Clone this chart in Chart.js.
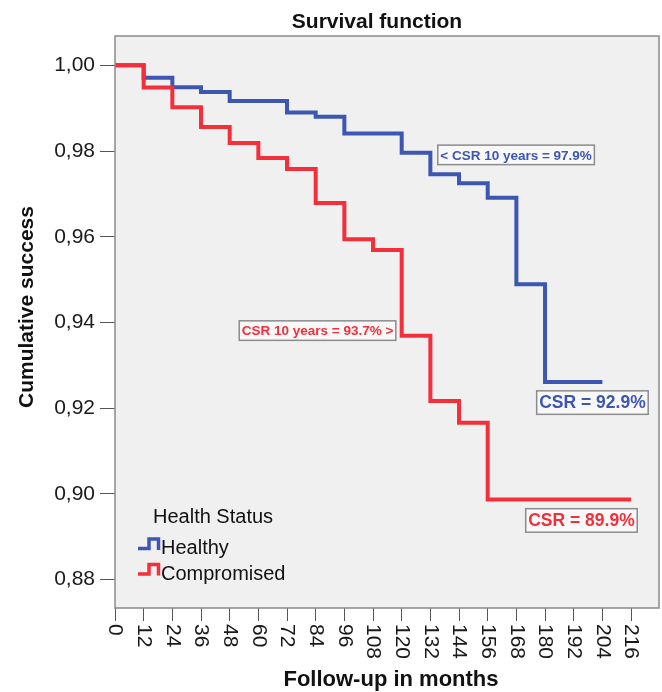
<!DOCTYPE html>
<html>
<head>
<meta charset="utf-8">
<title>Survival function</title>
<script src="https://cdn.jsdelivr.net/npm/chart.js@4.4.1/dist/chart.umd.min.js"></script>
<style>
  html, body { margin: 0; padding: 0; background: #fff; }
  #wrap { width: 662px; height: 692px; }
</style>
</head>
<body>
<div id="wrap"><canvas id="survChart" width="662" height="692"></canvas></div>
<script>
// tick values
const monthTicks = [0, 12, 24, 36, 48, 60, 72, 84, 96, 108, 120, 132, 144, 156, 168, 180, 192, 204, 216];
const survTicks = [0.88, 0.90, 0.92, 0.94, 0.96, 0.98, 1.00];

// Kaplan-Meier steps (value after the drop at each month)
const healthyMonths = [0, 12, 24, 36, 48, 72, 84, 96, 120, 132, 144, 156, 168, 180, 204];
const healthySurv = [1.000, 0.9971, 0.9949, 0.9938, 0.9917, 0.9890, 0.9880, 0.9841, 0.9796, 0.9746, 0.9725, 0.9691, 0.9489, 0.9261, 0.9261];
const compromisedMonths = [0, 12, 24, 36, 48, 60, 72, 84, 96, 108, 120, 132, 144, 156, 216];
const compromisedSurv = [1.000, 0.9948, 0.9902, 0.9856, 0.9819, 0.9784, 0.9758, 0.9679, 0.9594, 0.9569, 0.9369, 0.9217, 0.9166, 0.8987, 0.8987];

const groupNames = ["Healthy", "Compromised"];
const legendTitle = "Health Status";

// text boxes, anchored in data units (left edge month, centre survival)
const notes = [
  { text: "< CSR 10 years = 97.9%", group: 0, at: [135.1, 0.9791], size: 13.5 },
  { text: "CSR 10 years = 93.7% >", group: 1, at: [52.0, 0.9381], size: 13.5 },
  { text: "CSR = 92.9%", group: 0, at: [176.5, 0.9213], size: 17.5 },
  { text: "CSR = 89.9%", group: 1, at: [171.9, 0.8938], size: 17.5 }
];

const FONT = "'Liberation Sans', Arial, Helvetica, sans-serif";
const colors = ["#3c56b2", "#f22f3a"];

const toPoints = (xs, ys) => xs.map((m, i) => ({ x: m, y: ys[i] }));

const decor = {
  id: "decor",
  beforeDraw(chart) {
    const { ctx, chartArea: a } = chart;
    ctx.save();
    ctx.fillStyle = "#f0f0f0";
    ctx.fillRect(a.left, a.top, a.right - a.left, a.bottom - a.top);
    ctx.restore();
  },
  afterDraw(chart) {
    const { ctx, chartArea: a, scales: { x, y } } = chart;
    ctx.save();

    // frame round the plot
    ctx.strokeStyle = "#8a8a8a";
    ctx.lineWidth = 1.5;
    ctx.strokeRect(a.left, a.top, a.right - a.left, a.bottom - a.top);

    // title
    ctx.fillStyle = "#111";
    ctx.font = `bold 21px ${FONT}`;
    ctx.textAlign = "center";
    ctx.textBaseline = "alphabetic";
    ctx.fillText("Survival function", 377, 28);

    // x title
    ctx.font = `bold 22px ${FONT}`;
    ctx.fillText("Follow-up in months", 391, 686);

    // y title
    ctx.save();
    ctx.translate(33, 307);
    ctx.rotate(-Math.PI / 2);
    ctx.font = `bold 21px ${FONT}`;
    ctx.fillText("Cumulative success", 0, 0);
    ctx.restore();

    // x tick labels, turned clockwise
    ctx.font = `21px ${FONT}`;
    ctx.fillStyle = "#1a1a1a";
    ctx.textAlign = "left";
    ctx.textBaseline = "middle";
    monthTicks.forEach(m => {
      ctx.save();
      ctx.translate(x.getPixelForValue(m), a.bottom + 16);
      ctx.rotate(Math.PI / 2);
      ctx.fillText(String(m), 0, 0);
      ctx.restore();
    });

    // legend
    ctx.textBaseline = "alphabetic";
    ctx.fillStyle = "#111";
    ctx.font = `20px ${FONT}`;
    ctx.fillText(legendTitle, a.left + 38, 523);
    groupNames.forEach((name, i) => {
      const base = 554 + i * 25.5;
      const lx = a.left + 23;
      ctx.strokeStyle = colors[i];
      ctx.lineWidth = 3.5;
      ctx.lineJoin = "miter";
      ctx.beginPath();
      ctx.moveTo(lx, base - 5.5);
      ctx.lineTo(lx + 11, base - 5.5);
      ctx.lineTo(lx + 11, base - 15);
      ctx.lineTo(lx + 20.5, base - 15);
      ctx.lineTo(lx + 20.5, base - 4);
      ctx.stroke();
      ctx.fillStyle = "#111";
      ctx.fillText(name, lx + 23, base);
    });

    // annotation boxes
    notes.forEach(n => {
      ctx.font = `bold ${n.size}px ${FONT}`;
      const w = ctx.measureText(n.text).width + 5;
      const h = n.size + 6;
      const left = x.getPixelForValue(n.at[0]);
      const cy = y.getPixelForValue(n.at[1]);
      ctx.fillStyle = "#f8f8f8";
      ctx.fillRect(left, cy - h / 2, w, h);
      ctx.strokeStyle = "#8c8c8c";
      ctx.lineWidth = 1.5;
      ctx.strokeRect(left, cy - h / 2, w, h);
      ctx.fillStyle = colors[n.group];
      ctx.textAlign = "left";
      ctx.textBaseline = "middle";
      ctx.fillText(n.text, left + 2.5, cy + 1);
    });

    ctx.restore();
  }
};

const makeSet = (label, xs, ys, i) => ({
  label,
  data: toPoints(xs, ys),
  borderColor: colors[i],
  borderWidth: 4,
  stepped: "before",
  pointRadius: 0,
  fill: false,
  borderCapStyle: "butt",
  borderJoinStyle: "miter",
  order: 2 - i
});

new Chart(document.getElementById("survChart"), {
  type: "line",
  data: {
    datasets: [
      makeSet(groupNames[0], healthyMonths, healthySurv, 0),
      makeSet(groupNames[1], compromisedMonths, compromisedSurv, 1)
    ]
  },
  options: {
    responsive: false,
    animation: false,
    devicePixelRatio: 1,
    layout: { padding: { top: 36, right: 3, left: 0, bottom: 0 } },
    plugins: {
      legend: { display: false },
      title: { display: false },
      tooltip: { enabled: false }
    },
    scales: {
      x: {
        type: "linear",
        min: 0,
        max: 227.7,
        afterBuildTicks: s => { s.ticks = monthTicks.map(v => ({ value: v })); },
        afterFit: s => { s.height = 84; },
        border: { display: false },
        grid: { drawOnChartArea: false, drawTicks: true, tickLength: 13, color: "#555", lineWidth: 1 },
        ticks: { display: false, autoSkip: false }
      },
      y: {
        min: 0.87337,
        max: 1.00684,
        afterBuildTicks: s => { s.ticks = survTicks.map(v => ({ value: v })); },
        afterFit: s => { s.width = 115; },
        border: { display: false },
        grid: { drawOnChartArea: false, drawTicks: true, tickLength: 15, color: "#555", lineWidth: 1 },
        ticks: {
          autoSkip: false,
          padding: 5,
          color: "#1a1a1a",
          font: { family: FONT, size: 21 },
          callback: v => v.toFixed(2).replace(".", ",")
        }
      }
    }
  },
  plugins: [decor]
});
</script>
</body>
</html>
